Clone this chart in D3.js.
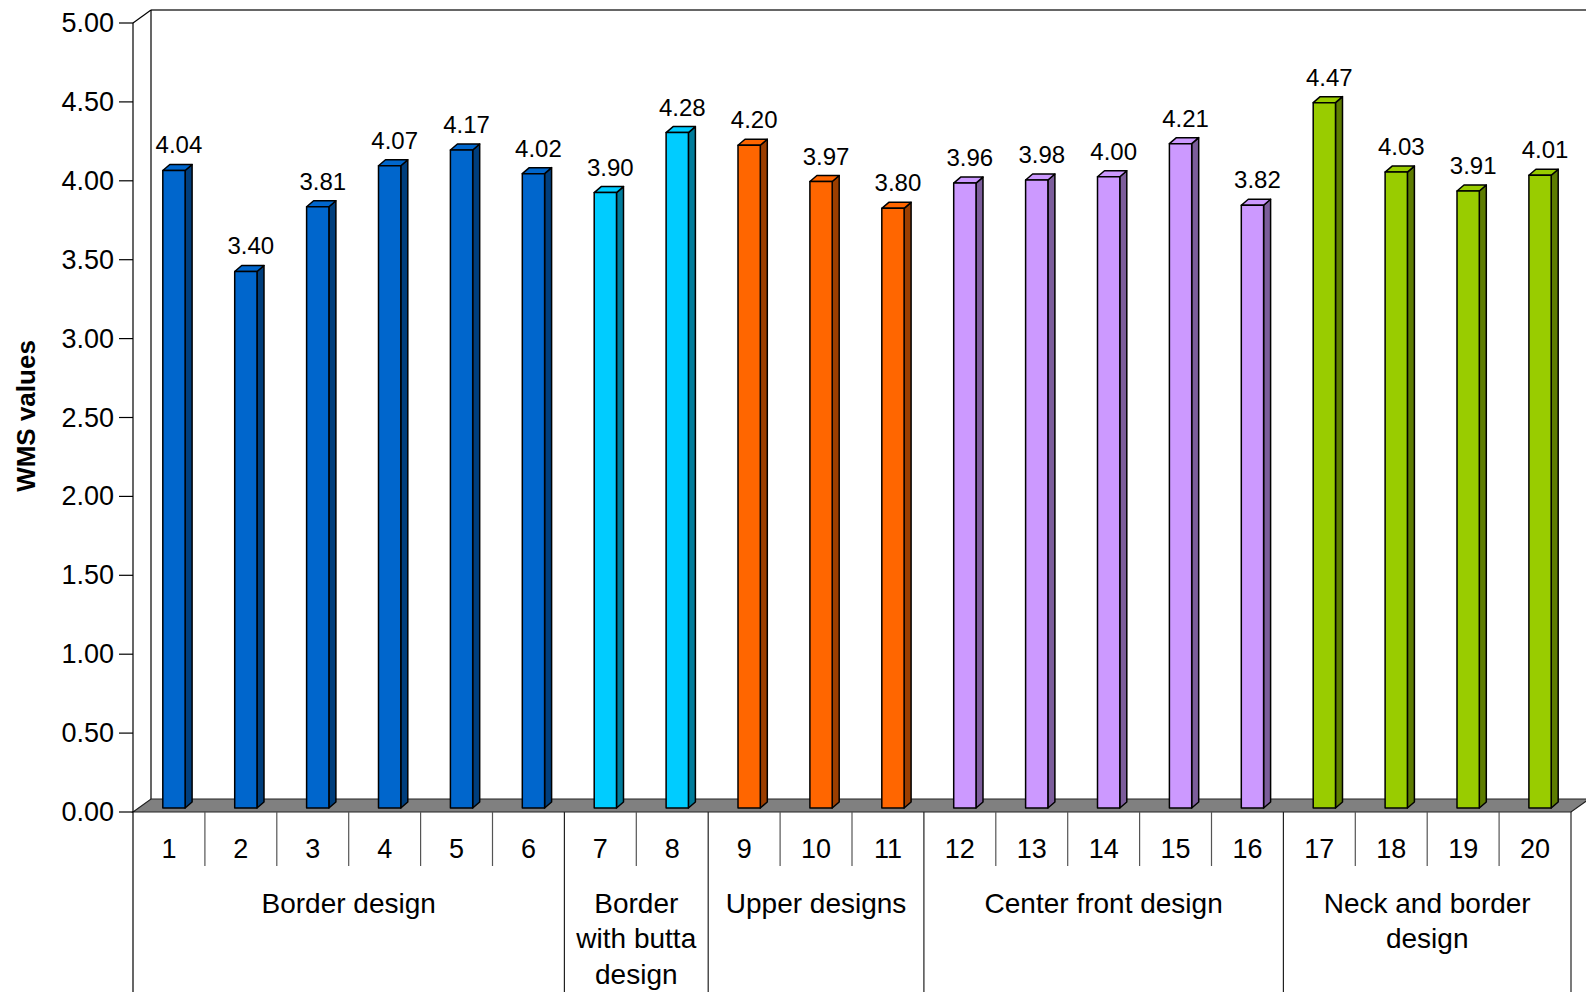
<!DOCTYPE html>
<html>
<head>
<meta charset="utf-8">
<script src="https://cdn.jsdelivr.net/npm/d3@7"></script>
<style>
  html, body { margin: 0; padding: 0; background: #fff; }
  svg { display: block; font-family: "Liberation Sans", Arial, sans-serif; }
</style>
</head>
<body>
<svg width="1586" height="992"></svg>
<script>
// chart data
const categories = ['1', '2', '3', '4', '5', '6', '7', '8', '9', '10',
  '11', '12', '13', '14', '15', '16', '17', '18', '19', '20'];
const values = [4.04, 3.40, 3.81, 4.07, 4.17, 4.02, 3.90, 4.28, 4.20, 3.97,
  3.80, 3.96, 3.98, 4.00, 4.21, 3.82, 4.47, 4.03, 3.91, 4.01];
const groupNames = [
  ['Border design'],
  ['Border', 'with butta', 'design'],
  ['Upper designs'],
  ['Center front design'],
  ['Neck and border', 'design'],
];
const groupSizes = [6, 2, 3, 5, 4];
const groupColors = ['#0066cc', '#00ccff', '#ff6600', '#cc99ff', '#99cc00'];
const yTicks = [0, 0.5, 1, 1.5, 2, 2.5, 3, 3.5, 4, 4.5, 5];
const yTitle = 'WMS values';

const svg = d3.select('svg');

const left = 133, right = 1571, y0 = 812, yTop = 23;
const depth = { dx: 18, dy: -13 };      // floor / wall depth
const barDepth = { dx: 7, dy: -6 };     // depth of each bar
const barShift = { dx: 5, dy: -4 };     // bars sit a little inside the floor

const x = d3.scaleBand()
  .domain(categories)
  .range([left, right])
  .paddingInner(0.69)
  .paddingOuter(0.345);

const y = d3.scaleLinear()
  .domain([0, 5])
  .range([y0, yTop]);

const fmt = d3.format('.2f');

// which group each bar belongs to
const barGroup = [];
groupSizes.forEach((n, g) => { for (let i = 0; i < n; i++) barGroup.push(g); });

// back wall
const wallTop = y(5) + depth.dy;
svg.append('line')
  .attr('x1', left + depth.dx).attr('x2', 1586)
  .attr('y1', wallTop).attr('y2', wallTop)
  .attr('stroke', '#333').attr('stroke-width', 1.5);
svg.append('line')
  .attr('x1', left + depth.dx).attr('x2', left + depth.dx)
  .attr('y1', wallTop).attr('y2', y0 + depth.dy)
  .attr('stroke', '#000').attr('stroke-width', 1.2);
svg.append('line')
  .attr('x1', left).attr('y1', y(5))
  .attr('x2', left + depth.dx).attr('y2', wallTop)
  .attr('stroke', '#000').attr('stroke-width', 1.2);

// floor
svg.append('polygon')
  .attr('points', [
    [left, y0], [left + depth.dx, y0 + depth.dy],
    [right + depth.dx, y0 + depth.dy], [right, y0],
  ].map(p => p.join(',')).join(' '))
  .attr('fill', '#808080')
  .attr('stroke', '#222')
  .attr('stroke-width', 1.2);

// y axis
svg.append('line')
  .attr('x1', left).attr('x2', left)
  .attr('y1', y(5)).attr('y2', 992)
  .attr('stroke', '#000').attr('stroke-width', 1.2);

const yAxis = svg.append('g');
yAxis.selectAll('line')
  .data(yTicks).enter().append('line')
  .attr('x1', left - 14).attr('x2', left)
  .attr('y1', d => y(d)).attr('y2', d => y(d))
  .attr('stroke', '#000').attr('stroke-width', 1.2);
yAxis.selectAll('text')
  .data(yTicks).enter().append('text')
  .attr('x', 114)
  .attr('y', d => y(d))
  .attr('text-anchor', 'end')
  .attr('dominant-baseline', 'central')
  .style('font-size', '27px')
  .text(d => fmt(d));

svg.append('text')
  .attr('transform', 'translate(26,416) rotate(-90)')
  .attr('text-anchor', 'middle')
  .attr('dominant-baseline', 'central')
  .style('font-size', '26px')
  .style('font-weight', 'bold')
  .text(yTitle);

// bars
const bars = svg.append('g');
values.forEach((v, i) => {
  const color = groupColors[barGroup[i]];
  const dark = d3.color(color).darker(1.4);
  const x0 = x(categories[i]) + barShift.dx;
  const x1 = x0 + x.bandwidth();
  const yb = y(0) + barShift.dy;
  const yt = y(v) + barShift.dy;
  const g = bars.append('g')
    .attr('stroke', '#000')
    .attr('stroke-width', 1.5)
    .attr('stroke-linejoin', 'round');
  g.append('polygon')
    .attr('points', [[x1, yt], [x1 + barDepth.dx, yt + barDepth.dy],
      [x1 + barDepth.dx, yb + barDepth.dy], [x1, yb]].map(p => p.join(',')).join(' '))
    .attr('fill', dark);
  g.append('polygon')
    .attr('points', [[x0, yt], [x0 + barDepth.dx, yt + barDepth.dy],
      [x1 + barDepth.dx, yt + barDepth.dy], [x1, yt]].map(p => p.join(',')).join(' '))
    .attr('fill', color);
  g.append('rect')
    .attr('x', x0).attr('y', yt)
    .attr('width', x1 - x0).attr('height', yb - yt)
    .attr('fill', color);
  bars.append('text')
    .attr('x', (x0 + x1) / 2 + 5)
    .attr('y', yt + barDepth.dy - 11)
    .attr('text-anchor', 'middle')
    .style('font-size', '24px')
    .text(fmt(v));
});

// category axis
const step = x.step();
const xAxis = svg.append('g');
categories.forEach((c, i) => {
  const cx = left + step * (i + 0.5);
  xAxis.append('text')
    .attr('x', cx).attr('y', 849)
    .attr('text-anchor', 'middle')
    .attr('dominant-baseline', 'central')
    .style('font-size', '27px')
    .text(c);
});

// tick lines between categories and groups
const groupEnds = d3.cumsum(groupSizes);
for (let i = 1; i <= categories.length; i++) {
  const xx = left + step * i;
  const isGroupEnd = groupEnds.includes(i);
  xAxis.append('line')
    .attr('x1', xx).attr('x2', xx)
    .attr('y1', y0).attr('y2', isGroupEnd ? 992 : 866)
    .attr('stroke', isGroupEnd ? '#222' : '#555').attr('stroke-width', 1.2);
}

// group labels
let start = 0;
groupNames.forEach((lines, g) => {
  const cx = left + step * (start + groupSizes[g] / 2);
  lines.forEach((ln, k) => {
    xAxis.append('text')
      .attr('x', cx).attr('y', 903 + k * 35.5)
      .attr('text-anchor', 'middle')
      .attr('dominant-baseline', 'central')
      .style('font-size', '28px')
      .text(ln);
  });
  start += groupSizes[g];
});
</script>
</body>
</html>
